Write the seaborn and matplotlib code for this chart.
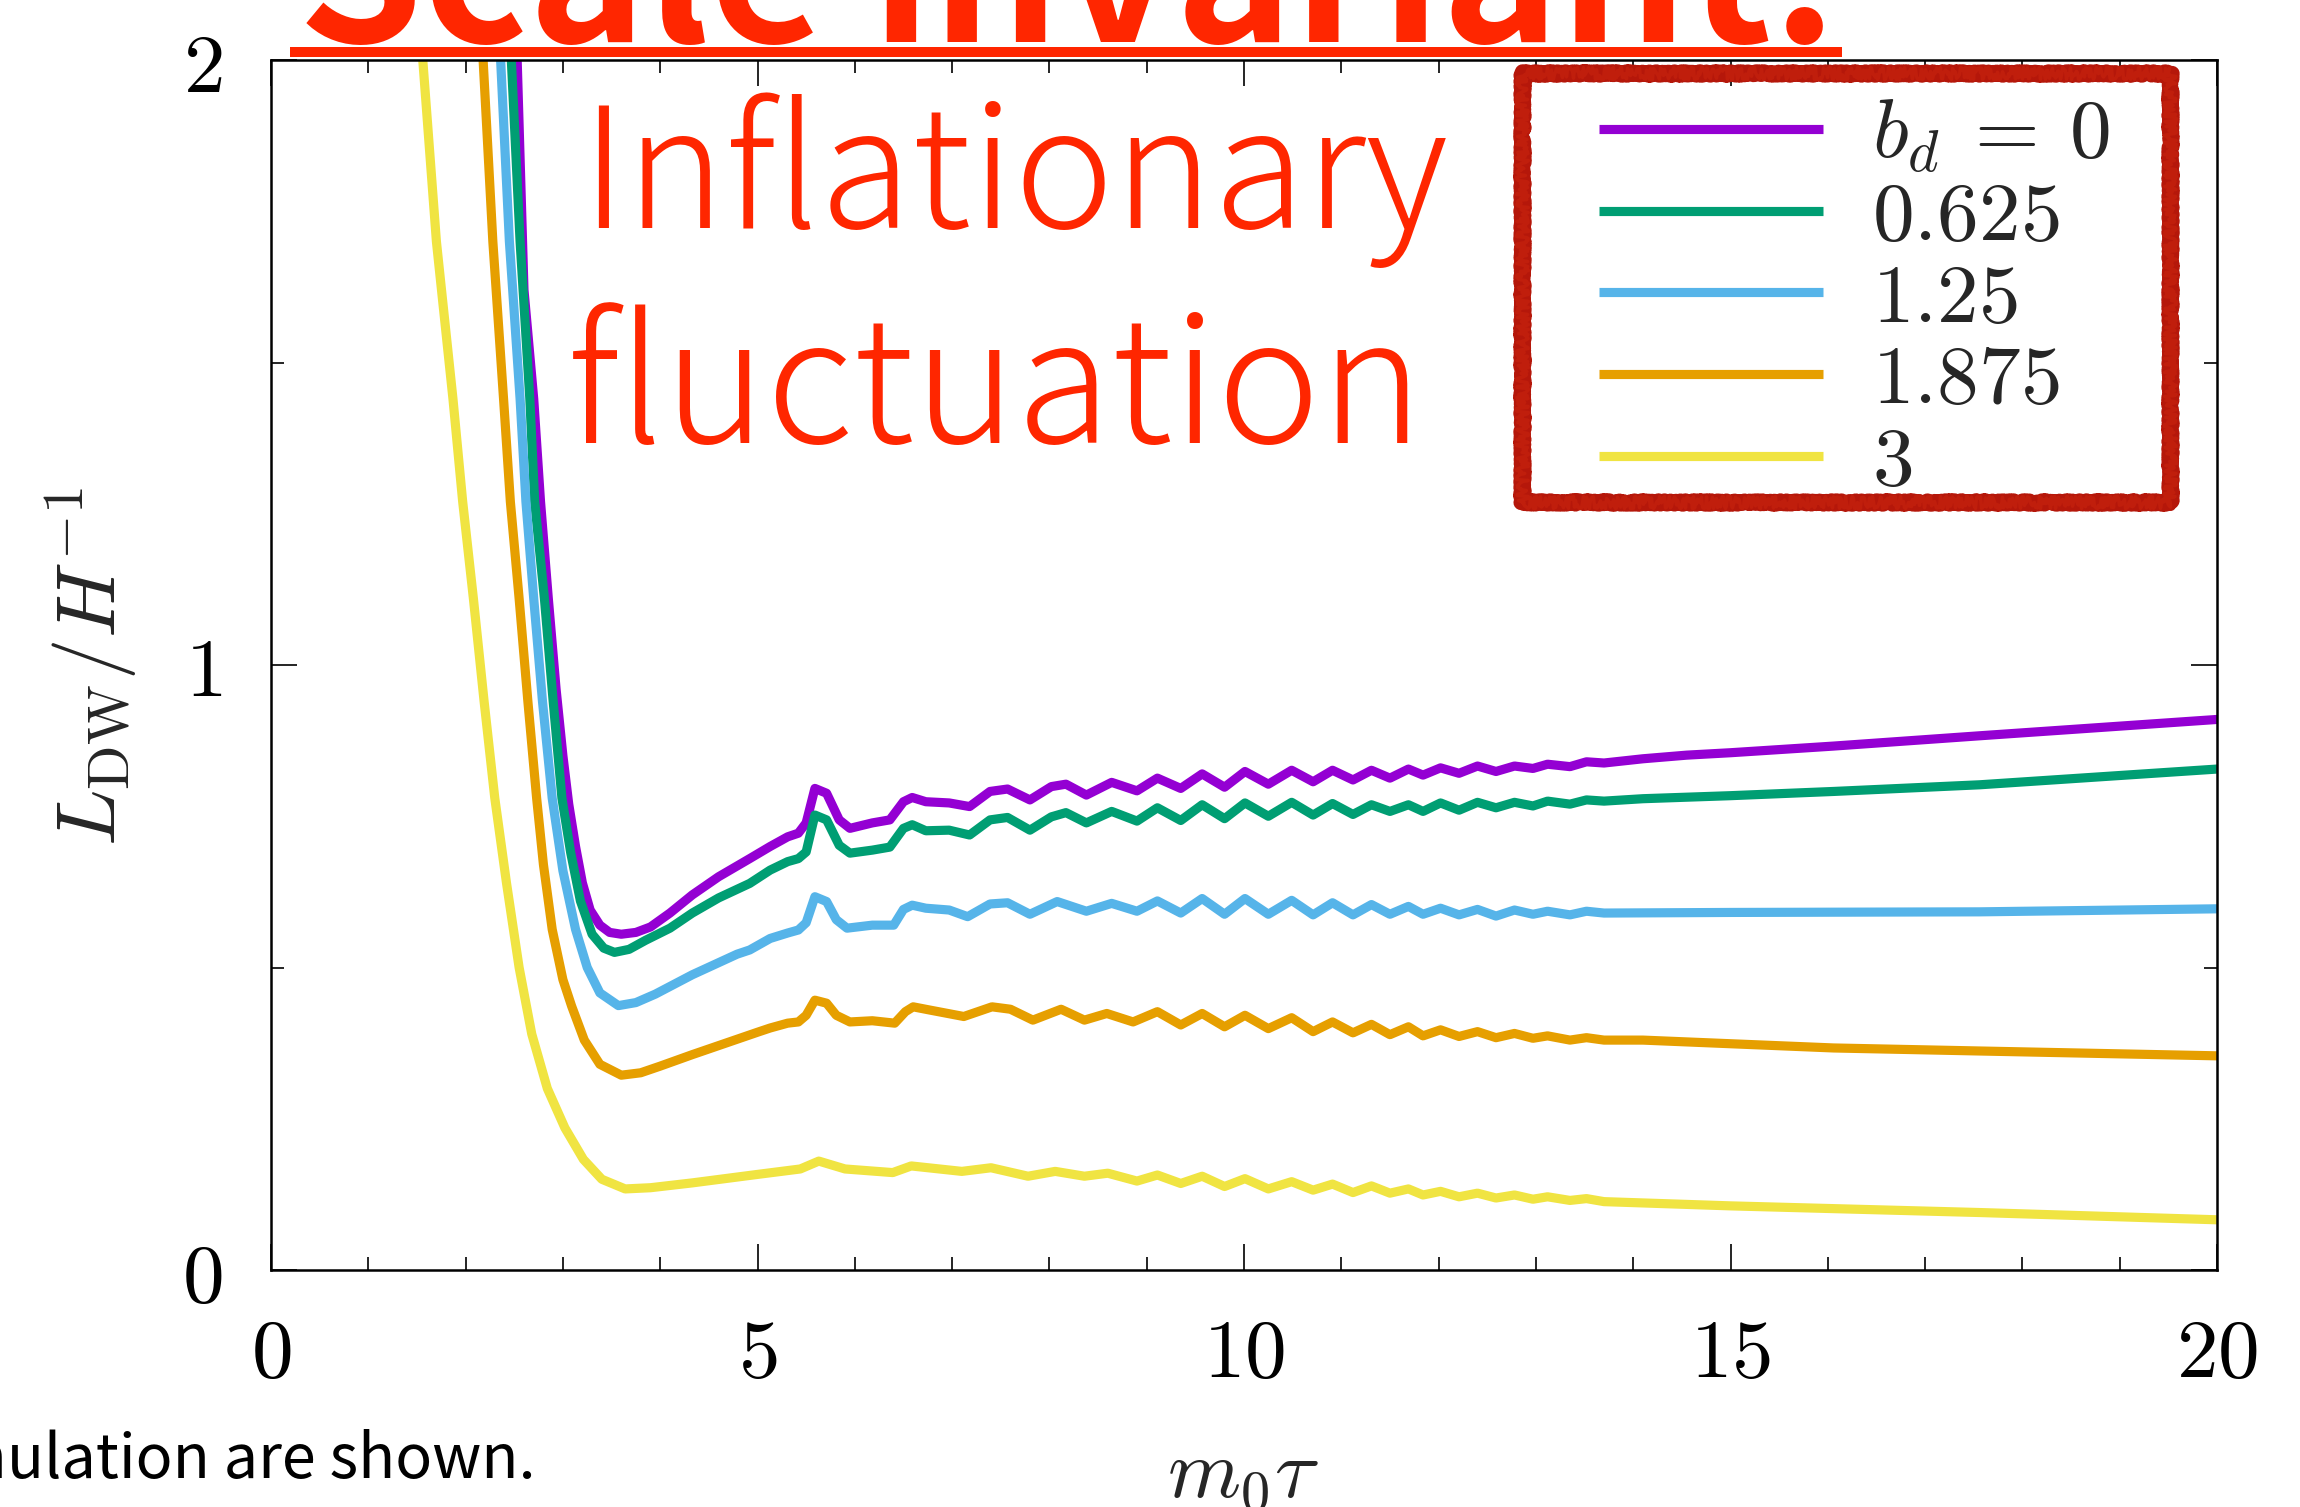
import matplotlib
matplotlib.use("Agg")
import matplotlib.pyplot as plt
import numpy as np
import pandas as pd
import seaborn as sns
from matplotlib.patches import Rectangle
from matplotlib.lines import Line2D
from matplotlib.ticker import FixedLocator

# ---------------- data ----------------
series_labels = [r"$b_d \:=\: 0$", r"$0.625$", r"$1.25$", r"$1.875$", r"$3$"]
series_colors = ["#9400D3", "#009E73", "#56B4E9", "#E69F00", "#F0E442"]

x_bd0 = [2.45, 2.53, 2.60, 2.70, 2.77, 2.85, 2.93, 3.00, 3.06, 3.13,
         3.20, 3.28, 3.38, 3.48, 3.60, 3.75, 3.90, 4.10, 4.33, 4.60,
         4.92, 5.13, 5.31, 5.42, 5.50, 5.59, 5.71, 5.84, 5.95, 6.18,
         6.36, 6.50, 6.59, 6.73, 6.97, 7.18, 7.39, 7.57, 7.80, 8.02,
         8.17, 8.38, 8.64, 8.90, 9.11, 9.35, 9.57, 9.80, 10.01, 10.25,
         10.49, 10.71, 10.91, 11.12, 11.31, 11.50, 11.69, 11.84, 12.02, 12.21,
         12.40, 12.59, 12.78, 12.97, 13.12, 13.35, 13.52, 13.70, 14.10, 14.55,
         15.00, 16.06, 17.56, 20.00]
y_bd0 = [2.25, 2.00, 1.62, 1.44, 1.27, 1.11, 0.96, 0.85, 0.77, 0.70,
         0.64, 0.595, 0.570, 0.558, 0.555, 0.558, 0.567, 0.590, 0.620, 0.650,
         0.680, 0.700, 0.716, 0.722, 0.739, 0.796, 0.788, 0.744, 0.730, 0.739,
         0.744, 0.774, 0.781, 0.774, 0.772, 0.766, 0.791, 0.795, 0.777, 0.799,
         0.803, 0.785, 0.806, 0.792, 0.813, 0.796, 0.820, 0.798, 0.824, 0.803,
         0.826, 0.807, 0.826, 0.810, 0.826, 0.813, 0.828, 0.818, 0.830, 0.821,
         0.833, 0.824, 0.833, 0.829, 0.836, 0.832, 0.840, 0.838, 0.845, 0.851,
         0.855, 0.866, 0.883, 0.910]

x_bd0625 = [2.40, 2.47, 2.56, 2.66, 2.71, 2.81, 2.90, 2.99, 3.08, 3.18,
            3.30, 3.42, 3.53, 3.68, 3.85, 4.10, 4.33, 4.60, 4.92, 5.13,
            5.31, 5.42, 5.50, 5.59, 5.71, 5.84, 5.95, 6.18, 6.36, 6.50,
            6.59, 6.73, 6.97, 7.18, 7.39, 7.57, 7.80, 8.02, 8.17, 8.38,
            8.64, 8.90, 9.11, 9.35, 9.57, 9.80, 10.01, 10.25, 10.49, 10.71,
            10.91, 11.12, 11.31, 11.50, 11.69, 11.84, 12.02, 12.21, 12.40, 12.59,
            12.78, 12.97, 13.12, 13.35, 13.52, 13.70, 14.10, 15.00, 16.06, 17.56,
            20.00]
y_bd0625 = [2.30, 2.00, 1.70, 1.44, 1.27, 1.11, 0.94, 0.78, 0.69, 0.61,
            0.555, 0.532, 0.525, 0.530, 0.545, 0.565, 0.590, 0.615, 0.639, 0.661,
            0.675, 0.680, 0.691, 0.752, 0.744, 0.702, 0.689, 0.694, 0.699, 0.730,
            0.736, 0.726, 0.727, 0.719, 0.744, 0.748, 0.727, 0.749, 0.756, 0.739,
            0.758, 0.742, 0.764, 0.743, 0.769, 0.746, 0.772, 0.750, 0.773, 0.752,
            0.771, 0.753, 0.769, 0.758, 0.769, 0.758, 0.772, 0.760, 0.773, 0.764,
            0.773, 0.767, 0.775, 0.770, 0.777, 0.775, 0.779, 0.784, 0.791, 0.802,
            0.828]

x_bd125 = [2.30, 2.36, 2.45, 2.56, 2.62, 2.70, 2.79, 2.89, 3.00, 3.13,
           3.25, 3.38, 3.57, 3.75, 3.95, 4.33, 4.79, 4.92, 5.13, 5.31,
           5.42, 5.50, 5.59, 5.71, 5.81, 5.92, 6.18, 6.40, 6.50, 6.59,
           6.73, 6.97, 7.16, 7.39, 7.57, 7.80, 8.08, 8.38, 8.64, 8.90,
           9.11, 9.35, 9.57, 9.80, 10.01, 10.25, 10.49, 10.71, 10.91, 11.12,
           11.31, 11.50, 11.69, 11.84, 12.02, 12.21, 12.40, 12.59, 12.78, 12.97,
           13.12, 13.35, 13.52, 13.70, 15.00, 17.56, 20.00]
y_bd125 = [2.30, 2.00, 1.70, 1.44, 1.27, 1.11, 0.94, 0.78, 0.66, 0.563,
           0.50, 0.458, 0.437, 0.442, 0.456, 0.488, 0.522, 0.529, 0.548, 0.557,
           0.562, 0.574, 0.617, 0.609, 0.579, 0.565, 0.570, 0.570, 0.596, 0.603,
           0.598, 0.595, 0.584, 0.605, 0.607, 0.588, 0.609, 0.593, 0.606, 0.593,
           0.610, 0.590, 0.614, 0.588, 0.614, 0.588, 0.611, 0.587, 0.607, 0.587,
           0.604, 0.588, 0.601, 0.588, 0.598, 0.587, 0.596, 0.585, 0.595, 0.588,
           0.593, 0.587, 0.593, 0.590, 0.591, 0.592, 0.597]

x_bd1875 = [2.12, 2.18, 2.28, 2.39, 2.46, 2.55, 2.64, 2.73, 2.80, 2.89,
            3.00, 3.09, 3.22, 3.38, 3.60, 3.80, 4.00, 4.33, 5.00, 5.13,
            5.31, 5.42, 5.50, 5.59, 5.71, 5.81, 5.95, 6.18, 6.41, 6.52,
            6.60, 6.76, 7.12, 7.41, 7.60, 7.83, 8.12, 8.36, 8.59, 8.86,
            9.11, 9.35, 9.57, 9.80, 10.01, 10.25, 10.49, 10.71, 10.91, 11.12,
            11.31, 11.50, 11.69, 11.84, 12.02, 12.21, 12.40, 12.59, 12.78, 12.97,
            13.12, 13.35, 13.52, 13.70, 14.10, 15.00, 16.06, 17.56, 20.00]
y_bd1875 = [2.30, 2.00, 1.70, 1.44, 1.27, 1.11, 0.94, 0.78, 0.67, 0.563,
            0.48, 0.436, 0.38, 0.340, 0.322, 0.326, 0.337, 0.356, 0.393, 0.400,
            0.408, 0.410, 0.421, 0.446, 0.441, 0.421, 0.410, 0.412, 0.408, 0.427,
            0.435, 0.430, 0.419, 0.435, 0.431, 0.413, 0.431, 0.413, 0.424, 0.410,
            0.427, 0.405, 0.424, 0.402, 0.421, 0.399, 0.417, 0.394, 0.410, 0.392,
            0.406, 0.389, 0.402, 0.387, 0.397, 0.386, 0.394, 0.384, 0.391, 0.383,
            0.387, 0.380, 0.384, 0.380, 0.380, 0.374, 0.367, 0.362, 0.354]

x_bd3 = [1.50, 1.56, 1.70, 1.87, 1.97, 2.08, 2.19, 2.30, 2.42, 2.55,
         2.68, 2.84, 3.02, 3.21, 3.40, 3.64, 3.90, 4.33, 5.00, 5.44,
         5.63, 5.90, 6.39, 6.58, 7.10, 7.40, 7.78, 8.06, 8.36, 8.60,
         8.90, 9.11, 9.35, 9.57, 9.80, 10.01, 10.25, 10.49, 10.71, 10.91,
         11.12, 11.31, 11.50, 11.69, 11.84, 12.02, 12.21, 12.40, 12.59, 12.78,
         12.97, 13.12, 13.35, 13.52, 13.70, 15.00, 17.56, 20.00]
y_bd3 = [2.15, 2.00, 1.70, 1.44, 1.27, 1.11, 0.94, 0.78, 0.64, 0.50,
         0.39, 0.30, 0.235, 0.183, 0.150, 0.134, 0.136, 0.144, 0.158, 0.167,
         0.180, 0.167, 0.161, 0.172, 0.163, 0.169, 0.155, 0.163, 0.155, 0.160,
         0.147, 0.157, 0.143, 0.155, 0.138, 0.151, 0.134, 0.146, 0.132, 0.142,
         0.128, 0.139, 0.127, 0.134, 0.124, 0.130, 0.121, 0.127, 0.119, 0.124,
         0.117, 0.121, 0.115, 0.118, 0.113, 0.106, 0.095, 0.083]

x_major = [0, 5, 10, 15, 20]
x_major_labels = [r"$0$", r"$5$", r"$10$", r"$15$", r"$20$"]
y_major = [0, 1, 2]
y_major_labels = [r"$0$", r"$1$", r"$2$"]

# ---------------- style ----------------
sns.set_style("ticks")
plt.rcParams["font.family"] = ["DejaVu Serif"]
plt.rcParams["mathtext.fontset"] = "cm"
plt.rcParams["axes.linewidth"] = 1.8

W, H = 2300, 1507
LW = 6.6
fig = plt.figure(figsize=(W / 100, H / 100), dpi=100)
ax = fig.add_axes([271 / W, 1 - 1270 / H, (2217 - 271) / W, (1270 - 60) / H])

curves = [(x_bd0, y_bd0), (x_bd0625, y_bd0625), (x_bd125, y_bd125),
          (x_bd1875, y_bd1875), (x_bd3, y_bd3)]
for (xs, ys), lab, col in zip(curves, series_labels, series_colors):
    df = pd.DataFrame({"t": xs, "L": ys})
    sns.lineplot(data=df, x="t", y="L", ax=ax, color=col, linewidth=LW,
                 estimator=None, sort=False, label=lab, legend=False,
                 solid_joinstyle="round")

ax.set_xlim(0, 20)
ax.set_ylim(0, 2)
ax.set_xlabel("")
ax.set_ylabel("")
ax.xaxis.set_major_locator(FixedLocator(x_major))
ax.xaxis.set_minor_locator(FixedLocator(np.arange(0, 21, 1)))
ax.yaxis.set_major_locator(FixedLocator(y_major))
ax.yaxis.set_minor_locator(FixedLocator([0.5, 1.5]))
ax.set_xticklabels(x_major_labels)
ax.set_yticklabels(y_major_labels)
ax.tick_params(which="both", direction="in", top=True, right=True,
               width=1.2, colors="black", labelsize=60)
ax.tick_params(which="major", length=19)
ax.tick_params(which="minor", length=9.5)
ax.tick_params(axis="x", which="major", pad=32)
ax.tick_params(axis="y", which="major", pad=35)
for sp in ax.spines.values():
    sp.set_color("black")

# axis titles
fig.text(91 / W, 1 - 667 / H, r"$L_{\rm DW}/H^{-1}$", rotation=90,
         ha="center", va="center", fontsize=60)
fig.text(1243 / W, 1 - 1497 / H, r"$m_0\tau$", ha="center",
         va="baseline", fontsize=60)

# legend
handles, labels = ax.get_legend_handles_labels()
leg = ax.legend(handles, labels, loc="upper left",
                bbox_to_anchor=(1599 / W, 1 - 95 / H),
                bbox_transform=fig.transFigure, frameon=False,
                fontsize=60, handlelength=2.69, handletextpad=0.58,
                labelspacing=0.02, borderpad=0, borderaxespad=0)
for ln in leg.get_lines():
    ln.set_linewidth(LW)
    ln.set_solid_capstyle("butt")

# rough hand-drawn legend frame
fx0, fy0 = 1522 / W, 1 - 502 / H
fw, fh = (2170 - 1522) / W, (502 - 73) / H
frame_strokes = [(11, (1.6, 4.0, 6.0), "#B5170A"),
                 (8, (3.0, 3.0, 10.0), "#B5170A"),
                 (5, (4.5, 2.5, 12.0), "#B5170A"),
                 (2.5, (6.0, 2.0, 16.0), "#C01E0C")]
for lw, sk, ec in frame_strokes:
    r = Rectangle((fx0, fy0), fw, fh, transform=fig.transFigure, fill=False,
                  edgecolor=ec, lw=lw, joinstyle="round", capstyle="round")
    r.set_sketch_params(*sk)
    fig.add_artist(r)

# red annotation text
red = "#FF2600"
ax.text(580 / W, 1 - 228 / H, "Inflationary", transform=fig.transFigure,
        color=red, fontsize=121, family=["Noto Sans CJK JP"],
        fontweight="light", ha="left", va="baseline")
ax.text(567 / W, 1 - 443 / H, "fluctuation", transform=fig.transFigure,
        color=red, fontsize=125, family=["Noto Sans CJK JP"],
        fontweight="light", ha="left", va="baseline")

# heading partly above the canvas, with its underline
fig.text(298 / W, 1 - 42 / H, "Scale invariant:", color=red, fontsize=144,
         family=["Noto Sans CJK JP"], fontweight="bold",
         ha="left", va="baseline")
fig.add_artist(Line2D([290 / W, 1842 / W], [1 - 52 / H, 1 - 52 / H],
                      transform=fig.transFigure, color=red, lw=7.2,
                      solid_capstyle="butt"))

# caption fragment at the lower left
fig.text(536 / W, 1 - 1478 / H, "simulation are shown.", color="black",
         fontsize=44, family=["Noto Sans CJK JP"], ha="right", va="baseline")

fig.savefig("out.png", dpi=100)
